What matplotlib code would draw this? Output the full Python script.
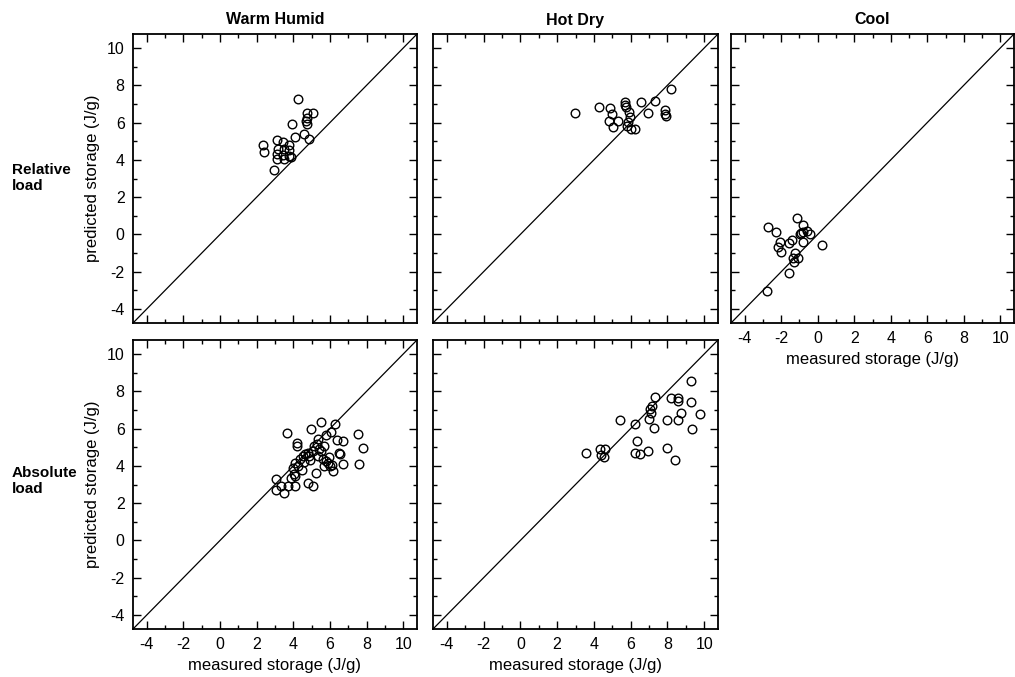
import matplotlib
matplotlib.use("Agg")
import matplotlib.pyplot as plt
from matplotlib.ticker import MultipleLocator

plt.rcParams['font.family'] = ['Liberation Sans', 'DejaVu Sans']
plt.rcParams['axes.unicode_minus'] = False

# ---- data (measured, predicted) ----
wh_rel_x = [4.24, 4.75, 5.06, 4.75, 4.69, 4.75, 3.92, 4.56, 4.09, 4.87, 2.36, 2.41, 3.12, 3.43, 3.74,
            3.16, 3.47, 3.79, 3.12, 3.43, 3.74, 3.12, 3.47, 2.94, 3.88]
wh_rel_y = [7.26, 6.49, 6.49, 6.26, 6.07, 5.90, 5.90, 5.41, 5.23, 5.14, 4.78, 4.43, 5.05, 4.96, 4.78,
            4.60, 4.60, 4.51, 4.33, 4.28, 4.21, 4.02, 4.05, 3.43, 4.15]

hd_rel_x = [2.95, 4.29, 4.87, 4.99, 4.81, 5.05, 5.31, 5.68, 5.68, 5.73, 5.89, 5.94, 5.85, 5.81, 6.03,
            6.21, 6.54, 7.32, 6.97, 8.22, 7.86, 7.92, 7.86]
hd_rel_y = [6.53, 6.85, 6.80, 6.48, 6.07, 5.76, 6.07, 7.10, 6.96, 6.84, 6.57, 6.30, 6.03, 5.82, 5.67,
            5.67, 7.10, 7.14, 6.53, 7.79, 6.66, 6.33, 6.48]

cool_rel_x = [-2.79, -2.71, -2.26, -1.13, -0.78, -0.60, -0.42, -0.90, -0.82, -0.95, -1.42, -1.58,
              -2.05, -2.20, -2.02, -1.27, -1.10, -1.37, -1.31, -1.60, 0.24, -0.83]
cool_rel_y = [-3.01, 0.41, 0.14, 0.90, 0.48, 0.21, 0.02, 0.10, 0.15, 0.02, -0.30, -0.46,
              -0.42, -0.68, -0.93, -1.00, -1.29, -1.29, -1.47, -2.05, -0.57, -0.40]

wh_abs_x = [3.68, 4.96, 5.50, 6.25, 6.03, 4.18, 4.22, 5.32, 5.77, 6.37, 6.73, 7.52, 7.83, 7.58, 6.73,
            6.49, 6.54, 6.18, 6.00, 5.24, 4.78, 5.06, 3.03, 3.03, 3.50, 3.32, 3.72, 4.07, 3.90, 4.08,
            4.00, 4.08, 4.34, 4.52, 4.65, 4.79, 4.88, 5.06, 5.15, 5.30, 5.42, 5.51, 5.69, 5.33, 5.60,
            5.78, 5.90, 5.69, 4.25, 4.47, 4.04, 4.90, 5.95, 6.10, 4.60]
wh_abs_y = [5.78, 6.00, 6.36, 6.27, 5.82, 5.21, 5.06, 5.42, 5.64, 5.39, 5.33, 5.73, 4.97, 4.08, 4.08,
            4.71, 4.62, 3.72, 3.99, 3.63, 3.09, 2.91, 3.27, 2.69, 2.55, 2.91, 2.91, 2.94, 3.36, 3.45,
            3.90, 4.17, 4.35, 4.53, 4.62, 4.70, 4.53, 4.80, 5.06, 5.15, 4.88, 4.80, 5.06, 4.53, 4.35,
            4.26, 4.17, 3.99, 3.99, 3.80, 3.54, 4.30, 4.50, 4.05, 4.20]

hd_abs_x = [3.55, 4.33, 4.63, 4.41, 4.56, 5.41, 6.21, 6.36, 6.21, 6.53, 6.93, 7.02, 7.25, 7.07, 7.11,
            7.15, 7.32, 7.97, 7.97, 8.22, 8.55, 8.60, 8.40, 8.55, 8.76, 9.30, 9.30, 9.35, 9.77]
hd_abs_y = [4.71, 4.92, 4.92, 4.56, 4.49, 6.46, 6.23, 5.33, 4.71, 4.62, 4.80, 6.50, 6.02, 7.07, 6.86,
            7.22, 7.67, 6.46, 4.97, 7.62, 7.62, 7.49, 4.31, 6.46, 6.86, 7.40, 8.56, 5.96, 6.77]

col_titles = ["Warm Humid", "Hot Dry", "Cool"]
row_titles = ["Relative\nload", "Absolute\nload"]
xlabel = "measured storage (J/g)"
ylabel = "predicted storage (J/g)"
lim = (-4.75, 10.75)

W, H = 1015, 677
fig = plt.figure(figsize=(W / 100, H / 100), dpi=100)

def make_ax(x0, y0, x1, y1):
    return fig.add_axes([x0 / W, 1 - y1 / H, (x1 - x0) / W, (y1 - y0) / H])

panels = [
    (make_ax(133, 34, 417, 323), wh_rel_x, wh_rel_y, True, False),
    (make_ax(433, 34, 718, 323), hd_rel_x, hd_rel_y, False, False),
    (make_ax(731, 34, 1014, 323), cool_rel_x, cool_rel_y, False, True),
    (make_ax(133, 340, 417, 629), wh_abs_x, wh_abs_y, True, True),
    (make_ax(433, 340, 718, 629), hd_abs_x, hd_abs_y, False, True),
]

for ax, xs, ys, ylab, xlab in panels:
    ax.plot(lim, lim, color='black', lw=0.9)
    ax.plot(xs, ys, linestyle='none', marker='o', ms=6.2, mfc='none', mec='black', mew=1.0)
    ax.set_xlim(lim)
    ax.set_ylim(lim)
    ax.xaxis.set_major_locator(MultipleLocator(2))
    ax.yaxis.set_major_locator(MultipleLocator(2))
    ax.xaxis.set_minor_locator(MultipleLocator(1))
    ax.yaxis.set_minor_locator(MultipleLocator(1))
    ax.tick_params(which='both', direction='in', top=True, right=True, width=1.0,
                   labelsize=11.5, labelbottom=xlab, labelleft=ylab, pad=6)
    ax.tick_params(which='major', length=6)
    ax.tick_params(which='minor', length=3)
    for sp in ax.spines.values():
        sp.set_linewidth(1.3)
    if ylab:
        ax.set_ylabel(ylabel, fontsize=12, labelpad=5)
    if xlab:
        ax.set_xlabel(xlabel, fontsize=12, labelpad=4)

# column titles
for xc, t in zip([275, 575, 872], col_titles):
    fig.text(xc / W, 1 - 20 / H, t, ha='center', va='center', fontsize=11.5, fontweight='bold')

# row titles
fig.text(12 / W, 1 - 178 / H, row_titles[0], ha='left', va='center', fontsize=11,
         fontweight='bold', linespacing=1.15)
fig.text(12 / W, 1 - 481 / H, row_titles[1], ha='left', va='center', fontsize=11,
         fontweight='bold', linespacing=1.15)

fig.savefig("out.png", dpi=100)
